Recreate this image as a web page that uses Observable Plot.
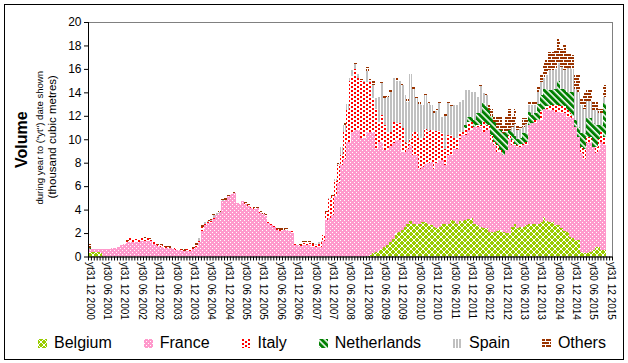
<!DOCTYPE html>
<html>
<head>
<meta charset="utf-8">
<script src="https://cdn.jsdelivr.net/npm/d3@7"></script>
<script src="https://cdn.jsdelivr.net/npm/@observablehq/plot@0.6"></script>
<style>
  body { margin: 0; background: #fff; font-family: "Liberation Sans", Arial, sans-serif; }
  #wrap { position: relative; width: 628px; height: 363px; overflow: hidden; background: #fff; }
  #chart { position: absolute; left: 0; top: 0; }
  #border { position: absolute; left: 4px; top: 4px; width: 620px; height: 356px; box-sizing: border-box; border: 1px solid #000; pointer-events: none; }
  #legend { position: absolute; left: 38px; right: 22px; top: 333px; height: 20px; line-height: 20px; display: flex; justify-content: space-between; align-items: center; font-size: 16px; color: #000; }
  .item { display: flex; align-items: center; white-space: nowrap; }
  .item svg { margin-right: 7px; }
</style>
</head>
<body>
<div id="wrap">
  <div id="chart"></div>
  <div id="legend"></div>
  <div id="border"></div>
</div>
<script>
const countries = ["Belgium", "France", "Italy", "Netherlands", "Spain", "Others"];

// monthly values, index 0 = Dec 2000 ... index 180 = Dec 2015 (one row per 12 months)
const belgium = [
  .4,.35,.35,.35,.3,.05,0,0,0,0,0,0,
  0,0,0,0,0,0,0,0,0,0,0,0,
  0,0,0,0,0,0,0,0,0,0,0,0,
  0,0,0,0,0,0,0,0,0,0,0,0,
  0,0,0,0,0,0,0,0,0,0,0,0,
  0,0,0,0,0,0,0,0,0,0,0,0,
  0,0,0,0,0,0,0,0,0,0,0,0,
  0,0,0,0,0,0,0,0,0,0,0,0,
  .05,.15,.3,.4,.5,.6,.8,1.0,1.2,1.5,2.0,2.1,
  2.3,2.5,2.8,3.0,2.8,2.8,2.8,2.9,2.9,2.8,2.7,2.5,
  2.4,2.5,2.8,2.8,2.8,3.1,3.0,2.8,3.0,3.0,3.1,3.2,
  3.3,2.8,2.7,2.5,2.4,2.4,2.1,2.1,2.1,2.2,2.25,2.1,
  2.0,2.0,2.55,2.8,2.4,2.55,2.55,2.7,2.8,2.8,2.8,2.8,
  2.95,3.4,3.0,2.95,2.95,2.7,2.7,2.4,2.2,2.1,1.7,1.6,
  1.4,1.4,.4,.3,.3,.35,.55,.8,.8,.55,.55,0,
  0
];
const france = [
  .25,.25,.25,.25,.3,.55,.64,.68,.7,.75,.85,.95,
  1.1,1.2,1.2,1.2,1.2,1.25,1.3,1.3,1.35,1.3,1.05,1.0,
  .9,.85,.75,.7,.7,.6,.55,.55,.5,.45,.5,.5,
  .6,.85,1.25,2.2,2.7,2.85,2.85,3.2,3.5,3.7,4.75,4.8,
  5.15,5.3,5.45,4.55,4.5,4.7,4.5,4.3,4.15,4.05,4.1,3.75,
  3.6,3.45,2.85,2.7,2.55,2.3,2.2,2.25,2.25,2.2,2.0,.95,
  .95,.9,1.0,1.0,1.0,.85,.8,.8,.85,1.3,3.1,3.3,
  3.5,5.2,6.3,7.8,8.3,9.8,9.8,10.6,10.8,10.8,10.1,10.1,
  10.55,10.45,10.3,8.8,9.25,9.15,8.3,8.1,8.2,8.15,7.9,7.8,
  6.6,6.4,6.4,6.5,5.85,5.85,4.7,4.7,5.0,5.2,5.4,5.0,
  5.6,5.7,5.4,5.0,5.85,5.55,6.2,6.4,7.0,7.35,7.25,7.6,
  7.5,8.25,8.35,8.55,8.2,8.4,8.7,7.7,7.4,6.7,6.65,6.55,
  7.1,8.05,6.95,6.7,6.95,6.8,6.95,6.8,8.4,8.55,8.55,8.8,
  8.65,9.2,9.6,9.55,9.55,9.6,9.6,9.8,10.0,9.8,10.2,10.2,
  9.65,8.8,8.4,8.0,9.35,9.45,8.8,8.0,8.3,9.25,8.95,0,
  0
];
const italy = [
  0,0,0,0,0,0,0,0,0,.03,0,.05,
  0,.15,.35,.2,.25,.2,.25,.3,.25,.2,.2,.15,
  .1,.15,.1,.1,.05,.1,.05,.05,.05,.05,.1,.1,
  .1,.15,.1,.3,.1,.1,.15,.1,.05,.05,0,0,
  0,0,0,0,0,.05,.1,.1,.1,.1,.05,.05,
  0,.1,.1,.1,.05,.05,.1,.05,.1,.05,.2,.1,
  .15,.1,.15,.2,.15,.2,.2,.3,.35,.5,.7,1.6,
  1.7,1.2,1.5,.85,2.3,2.7,5.2,4.8,5.2,4.4,4.9,4.8,
  4.3,4.3,2.9,3.4,1.75,2.35,2.1,1.5,1.2,1.85,1.45,1.45,
  2.1,.9,.5,.5,1.95,1.95,2.6,2.5,3.0,2.7,2.7,3.3,
  2.7,2.5,2.3,1.4,1.7,1.7,.9,.9,.6,.25,.65,.7,
  .7,0,.15,.15,.9,.4,.4,.55,.3,.6,.2,0,
  0,.3,.4,.1,.15,.25,.1,.3,0,.05,.25,0,
  .8,0,.2,.3,.4,.6,.6,.6,.6,.6,.3,.2,
  0,0,.55,.9,.55,.4,0,.55,.9,.8,.7,0,
  0
];
const netherlands = [
  .05,.05,0,.05,.05,.05,.02,0,0,0,0,0,
  0,0,0,0,0,0,0,0,0,0,0,0,
  0,0,0,0,0,0,0,0,0,0,0,0,
  0,0,0,0,0,0,0,0,0,0,0,0,
  0,0,0,0,0,0,0,0,0,0,0,0,
  0,0,0,0,0,0,0,0,0,0,0,0,
  0,0,0,0,0,0,0,0,0,0,0,0,
  0,0,0,0,0,0,0,0,0,0,0,0,
  0,0,0,0,0,0,0,0,0,0,0,0,
  0,0,0,0,0,0,0,0,0,0,0,0,
  0,0,0,0,0,0,0,0,0,0,.2,.4,
  .4,.55,1.0,1.0,1.55,1.6,1.3,1.65,1.7,1.4,1.7,1.85,
  1.5,.45,.75,.7,.55,.5,.9,.7,1.15,.65,.6,1.4,
  1.35,1.7,1.5,1.4,1.3,1.4,2.1,1.5,1.5,1.55,1.85,2.0,
  .55,.85,1.15,1.3,1.6,1.6,2.0,1.85,1.2,.6,2.85,0,
  0
];
const spain = [
  0,0,0,0,0,0,0,0,0,0,0,0,
  0,0,0,0,0,0,0,0,0,0,0,0,
  0,0,0,0,0,0,0,0,0,0,0,0,
  0,0,.2,.05,.1,.1,.15,.2,.15,.05,.05,0,
  0,0,0,0,0,0,0,0,0,0,0,0,
  0,0,0,0,0,0,0,0,0,.05,0,0,
  0,0,0,0,0,0,.05,.1,.1,0,0,.1,
  0,.2,.1,.65,.6,.5,.2,.5,.4,.4,0,.1,
  .9,.1,1.1,.9,2.1,2.7,2.3,3.0,3.4,3.7,3.65,3.65,
  3.6,4.0,3.5,5.6,3.7,2.9,2.9,2.8,2.9,2.35,2.1,1.4,
  1.7,2.35,1.4,2.8,2.7,2.45,2.8,2.8,2.6,2.75,3.0,2.3,
  2.15,2.45,1.4,2.3,.9,1.0,0,0,0,0,0,0,
  0,0,.4,1.0,.75,.8,.55,.8,.55,.85,.7,1.0,
  1.15,.9,1.15,1.7,1.7,1.7,1.5,1.9,1.6,2.0,2.0,2.0,
  2.7,3.0,2.4,2.1,1.5,1.5,1.15,1.3,1.0,1.0,.55,0,
  0
];
const others = [
  .35,0,.05,0,.05,0,.02,.03,.02,0,0,0,
  0,.05,0,0,0,0,0,.05,0,.05,0,.05,
  .05,.1,.05,.1,.15,.05,.1,.1,.15,.15,.1,.15,
  .15,.2,.05,.1,.1,.1,.15,.15,.1,.05,.1,.15,
  .1,.05,.1,0,0,0,.05,.1,0,.05,.1,.1,
  .1,.1,.05,0,0,.2,.25,.2,.05,0,0,0,
  0,.05,.2,.15,.15,.1,.05,0,.05,0,.1,0,
  .1,0,.1,0,.2,0,.1,0,.2,0,.1,0,
  .4,.1,.4,0,0,.1,.3,.1,.3,0,.3,0,
  .2,0,.2,0,.2,.1,.2,0,.1,.15,.1,.2,
  .2,.15,.1,.2,.15,.1,.1,0,0,0,0,0,
  0,0,0,.1,.05,.1,.5,.6,.4,1.0,1.1,.7,
  1.3,1.8,.85,1.3,.4,.15,.75,.5,.4,.4,.4,.5,
  .7,1.4,1.35,1.55,1.55,1.6,2.1,1.5,2.1,1.25,1.25,1.2,
  1.2,1.45,.6,1.45,.9,.9,.7,.8,.4,.4,1.0,0,
  0
];

const tickLabels = [
  "yt31 12 2000","yt30 06 2001","yt31 12 2001","yt30 06 2002","yt31 12 2002",
  "yt30 06 2003","yt31 12 2003","yt30 06 2004","yt31 12 2004","yt30 06 2005",
  "yt31 12 2005","yt30 06 2006","yt31 12 2006","yt30 06 2007","yt31 12 2007",
  "yt30 06 2008","yt31 12 2008","yt30 06 2009","yt31 12 2009","yt30 06 2010",
  "yt31 12 2010","yt30 06 2011","yt31 12 2011","yt30 06 2012","yt31 12 2012",
  "yt30 06 2013","yt31 12 2013","yt30 06 2014","yt31 12 2014","yt30 06 2015",
  "yt31 12 2015"
];
const yTicks = [0, 2, 4, 6, 8, 10, 12, 14, 16, 18, 20];

const seriesValues = [belgium, france, italy, netherlands, spain, others];
const months = d3.range(belgium.length);
const labelMonths = tickLabels.map((_, k) => k * 6);

const data = [];
countries.forEach((c, s) => {
  months.forEach(m => data.push({month: m, country: c, value: seriesValues[s][m]}));
});

const patterns = `
<pattern id="pat-Belgium" patternUnits="userSpaceOnUse" width="6" height="6">
  <rect width="6" height="6" fill="#99CC00"/>
  <path d="M0,0L6,6M6,0L0,6" stroke="#fff" stroke-width="1"/>
</pattern>
<pattern id="pat-France" patternUnits="userSpaceOnUse" width="4" height="4">
  <rect width="4" height="4" fill="#FF99CC"/>
  <rect x="0" y="0" width="1" height="1" fill="#fff"/>
  <rect x="2" y="2" width="1" height="1" fill="#fff"/>
</pattern>
<pattern id="pat-Italy" patternUnits="userSpaceOnUse" width="6" height="4">
  <rect width="6" height="4" fill="#fff"/>
  <rect x="0" y="0" width="2" height="2" fill="#FF0000"/>
  <rect x="3" y="2" width="2" height="2" fill="#FF0000"/>
</pattern>
<pattern id="pat-Netherlands" patternUnits="userSpaceOnUse" width="4.5" height="4.5" patternTransform="rotate(-45)">
  <rect width="4.5" height="4.5" fill="#fff"/>
  <rect width="3" height="4.5" fill="#008000"/>
</pattern>
<pattern id="pat-Spain" patternUnits="userSpaceOnUse" width="3" height="3">
  <rect width="3" height="3" fill="#fff"/>
  <rect width="2" height="3" fill="#C0C0C0"/>
</pattern>
<pattern id="pat-Others" patternUnits="userSpaceOnUse" width="8" height="6">
  <rect width="8" height="6" fill="#993300"/>
  <rect x="0" y="2" width="8" height="1" fill="#fff"/>
  <rect x="0" y="5" width="8" height="1" fill="#fff"/>
  <rect x="3" y="0" width="1" height="2" fill="#fff"/>
  <rect x="7" y="3" width="1" height="2" fill="#fff"/>
</pattern>`;

function defsMark() {
  const defs = document.createElementNS("http://www.w3.org/2000/svg", "defs");
  defs.innerHTML = patterns;
  return defs;
}

const W = 628, H = 333, mL = 88, mR = 16, mT = 22, mB = 76.5;
const half = (W - mL - mR) / months.length / 2;

const chart = Plot.plot({
  width: W,
  height: H,
  marginLeft: mL,
  marginRight: mR,
  marginTop: mT,
  marginBottom: mB,
  style: {fontFamily: "'Liberation Sans', Arial, sans-serif", fontSize: "10px", color: "#000", background: "transparent", overflow: "visible"},
  x: {type: "band", domain: months, padding: 0, round: false, axis: null},
  y: {domain: [0, 20], axis: null},
  color: {type: "ordinal", domain: countries, range: countries.map(c => `url(#pat-${c})`)},
  marks: [
    defsMark,
    Plot.barY(data, {x: "month", y: "value", fill: "country", shapeRendering: "crispEdges"}),
    Plot.frame({stroke: "#808080"}),
    Plot.ruleY([0], {stroke: "#000"}),
    Plot.frame({anchor: "left", stroke: "#000"}),
    Plot.axisY({ticks: yTicks, tickSize: 4, tickPadding: 3, fontSize: 12, label: null}),
    Plot.axisX({ticks: months, tickSize: 4, tickFormat: () => "", dx: -half, label: null}),
    Plot.axisX({ticks: [months[months.length - 1]], tickSize: 4, tickFormat: () => "", dx: half, label: null}),
    Plot.axisX({ticks: labelMonths, tickSize: 0, tickPadding: 5, tickRotate: 90,
      tickFormat: m => tickLabels[m / 6], fontSize: 10, label: null}),
    Plot.text(["Volume"], {frameAnchor: "left", textAnchor: "middle", dx: -66.5, rotate: -90, fontSize: 16, fontWeight: "bold", fill: "#000"}),
    Plot.text(['during year to ("yt") date shown'], {frameAnchor: "left", textAnchor: "middle", dx: -49, dy: -2, rotate: -90, fontSize: 9.6, fill: "#000"}),
    Plot.text(["(thousand cubic metres)"], {frameAnchor: "left", textAnchor: "middle", dx: -36, dy: -3, rotate: -90, fontSize: 11.5, fill: "#000"})
  ]
});
document.getElementById("chart").appendChild(chart);

// legend below the plot
const legend = d3.select("#legend");
countries.forEach(c => {
  const item = legend.append("div").attr("class", "item");
  const sw = item.append("svg").attr("width", 9).attr("height", 9);
  sw.append("rect").attr("width", 9).attr("height", 9).attr("fill", `url(#pat-${c})`);
  item.append("span").text(c);
});
</script>
</body>
</html>
